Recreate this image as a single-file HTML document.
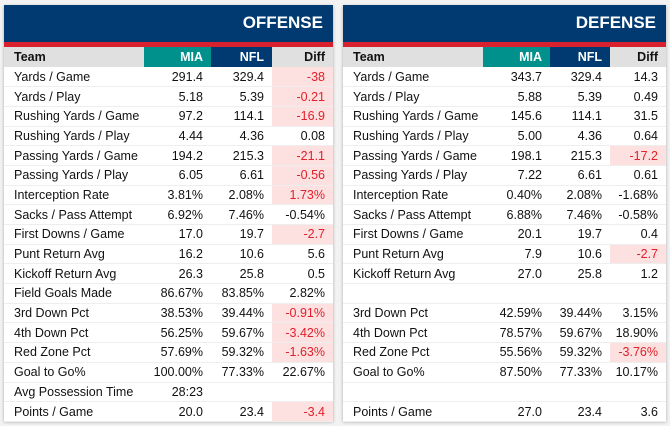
<!DOCTYPE html>
<html><head><meta charset="utf-8"><style>
body{margin:0;width:670px;height:426px;background:#f2f2f2;font-family:"Liberation Sans",sans-serif;position:relative;overflow:hidden}
.panel{position:absolute;top:5px;background:#fff;box-shadow:0 1px 3px rgba(0,0,0,.3);height:416px}
.hdr{background:#003a70;color:#fff;font-weight:bold;font-size:17px;text-align:right;padding-right:10px;line-height:36px;box-sizing:border-box;border-bottom:5px solid #d7212f;height:42px}
table{border-collapse:collapse;width:100%;font-size:12.5px;color:#111;table-layout:fixed}
td,th{height:19.7px;padding:0 8px 0 0;text-align:right;border-bottom:1px solid #eee;box-sizing:border-box;white-space:nowrap}
td:first-child,th:first-child{text-align:left;padding-left:10px}
th{font-weight:bold;background:#e0e0e0;height:20px;border:none}
th.mia{background:#00918c;color:#fff}
th.nfl{background:#003a70;color:#fff}
td.neg{background:#fde0e0;color:#e0202a}
</style></head><body>
<div class="panel" style="left:4px;width:329px">
<div class="hdr">OFFENSE</div>
<table><colgroup><col style="width:140px"><col style="width:67px"><col style="width:61px"><col style="width:61px"></colgroup>
<tr><th>Team</th><th class="mia">MIA</th><th class="nfl">NFL</th><th>Diff</th></tr>
<tr><td>Yards / Game</td><td>291.4</td><td>329.4</td><td class="neg">-38</td></tr>
<tr><td>Yards / Play</td><td>5.18</td><td>5.39</td><td class="neg">-0.21</td></tr>
<tr><td>Rushing Yards / Game</td><td>97.2</td><td>114.1</td><td class="neg">-16.9</td></tr>
<tr><td>Rushing Yards / Play</td><td>4.44</td><td>4.36</td><td>0.08</td></tr>
<tr><td>Passing Yards / Game</td><td>194.2</td><td>215.3</td><td class="neg">-21.1</td></tr>
<tr><td>Passing Yards / Play</td><td>6.05</td><td>6.61</td><td class="neg">-0.56</td></tr>
<tr><td>Interception Rate</td><td>3.81%</td><td>2.08%</td><td class="neg">1.73%</td></tr>
<tr><td>Sacks / Pass Attempt</td><td>6.92%</td><td>7.46%</td><td>-0.54%</td></tr>
<tr><td>First Downs / Game</td><td>17.0</td><td>19.7</td><td class="neg">-2.7</td></tr>
<tr><td>Punt Return Avg</td><td>16.2</td><td>10.6</td><td>5.6</td></tr>
<tr><td>Kickoff Return Avg</td><td>26.3</td><td>25.8</td><td>0.5</td></tr>
<tr><td>Field Goals Made</td><td>86.67%</td><td>83.85%</td><td>2.82%</td></tr>
<tr><td>3rd Down Pct</td><td>38.53%</td><td>39.44%</td><td class="neg">-0.91%</td></tr>
<tr><td>4th Down Pct</td><td>56.25%</td><td>59.67%</td><td class="neg">-3.42%</td></tr>
<tr><td>Red Zone Pct</td><td>57.69%</td><td>59.32%</td><td class="neg">-1.63%</td></tr>
<tr><td>Goal to Go%</td><td>100.00%</td><td>77.33%</td><td>22.67%</td></tr>
<tr><td>Avg Possession Time</td><td>28:23</td><td></td><td></td></tr>
<tr><td>Points / Game</td><td>20.0</td><td>23.4</td><td class="neg">-3.4</td></tr>
</table></div>
<div class="panel" style="left:343px;width:323px">
<div class="hdr">DEFENSE</div>
<table><colgroup><col style="width:140px"><col style="width:67px"><col style="width:60px"><col style="width:56px"></colgroup>
<tr><th>Team</th><th class="mia">MIA</th><th class="nfl">NFL</th><th>Diff</th></tr>
<tr><td>Yards / Game</td><td>343.7</td><td>329.4</td><td>14.3</td></tr>
<tr><td>Yards / Play</td><td>5.88</td><td>5.39</td><td>0.49</td></tr>
<tr><td>Rushing Yards / Game</td><td>145.6</td><td>114.1</td><td>31.5</td></tr>
<tr><td>Rushing Yards / Play</td><td>5.00</td><td>4.36</td><td>0.64</td></tr>
<tr><td>Passing Yards / Game</td><td>198.1</td><td>215.3</td><td class="neg">-17.2</td></tr>
<tr><td>Passing Yards / Play</td><td>7.22</td><td>6.61</td><td>0.61</td></tr>
<tr><td>Interception Rate</td><td>0.40%</td><td>2.08%</td><td>-1.68%</td></tr>
<tr><td>Sacks / Pass Attempt</td><td>6.88%</td><td>7.46%</td><td>-0.58%</td></tr>
<tr><td>First Downs / Game</td><td>20.1</td><td>19.7</td><td>0.4</td></tr>
<tr><td>Punt Return Avg</td><td>7.9</td><td>10.6</td><td class="neg">-2.7</td></tr>
<tr><td>Kickoff Return Avg</td><td>27.0</td><td>25.8</td><td>1.2</td></tr>
<tr><td></td><td></td><td></td><td></td></tr>
<tr><td>3rd Down Pct</td><td>42.59%</td><td>39.44%</td><td>3.15%</td></tr>
<tr><td>4th Down Pct</td><td>78.57%</td><td>59.67%</td><td>18.90%</td></tr>
<tr><td>Red Zone Pct</td><td>55.56%</td><td>59.32%</td><td class="neg">-3.76%</td></tr>
<tr><td>Goal to Go%</td><td>87.50%</td><td>77.33%</td><td>10.17%</td></tr>
<tr><td></td><td></td><td></td><td></td></tr>
<tr><td>Points / Game</td><td>27.0</td><td>23.4</td><td>3.6</td></tr>
</table></div>
</body></html>
